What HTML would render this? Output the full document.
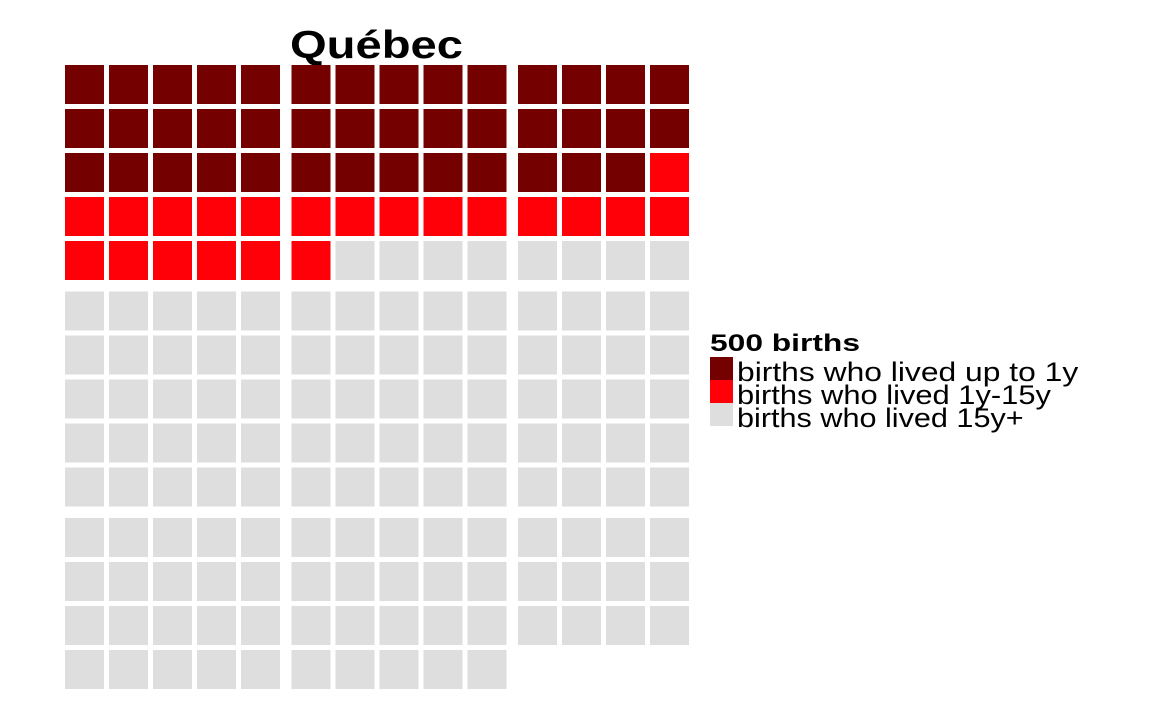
<!DOCTYPE html>
<html><head><meta charset="utf-8">
<style>
html,body{margin:0;padding:0;background:#fff;}
svg{display:block;font-family:"Liberation Sans",sans-serif;}
</style></head>
<body>
<svg id="chart" width="1152" height="720" viewBox="0 0 1152 720">
<text x="290" y="58" textLength="173" lengthAdjust="spacingAndGlyphs" font-size="39" font-weight="bold" fill="#000">Québec</text>
<g id="cells"></g>
<g>
<text x="710" y="351" textLength="150" lengthAdjust="spacingAndGlyphs" font-size="24" font-weight="bold" fill="#000">500 births</text>
<g id="legend-keys"></g>
</g>
</svg>
<script>
const categories = ["births who lived up to 1y", "births who lived 1y-15y", "births who lived 15y+"];
const counts = [41, 21, 130];
const colors = ["#750000", "#ff0008", "#dedede"];
const nCols = 14;

const NS = "http://www.w3.org/2000/svg";
const cellG = document.getElementById("cells");
function xPos(c){ return 65 + c*44 + Math.floor(c/5)*6.5; }
function yPos(r){ return 65 + r*44 + Math.floor(r/5)*6.5; }
let idx = 0;
counts.forEach((n, k) => {
  for (let i = 0; i < n; i++) {
    const c = idx % nCols, r = Math.floor(idx / nCols);
    const rect = document.createElementNS(NS, "rect");
    rect.setAttribute("x", xPos(c));
    rect.setAttribute("y", yPos(r));
    rect.setAttribute("width", 39);
    rect.setAttribute("height", 39);
    rect.setAttribute("fill", colors[k]);
    
    
    cellG.appendChild(rect);
    idx++;
  }
});
const lg = document.getElementById("legend-keys");
categories.forEach((name, k) => {
  const g = document.createElementNS(NS, "g");
  
  
  const r = document.createElementNS(NS, "rect");
  r.setAttribute("x", 710); r.setAttribute("y", 357 + k*23);
  r.setAttribute("width", 23); r.setAttribute("height", 23);
  r.setAttribute("fill", colors[k]);
  
  
  const t = document.createElementNS(NS, "text");
  t.setAttribute("x", 737); t.setAttribute("y", 381 + k*23);
  t.setAttribute("font-size", 27);
  t.setAttribute("fill", "#000");
  t.textContent = name;
  t.setAttribute("textLength", name.length * 13.65);
  t.setAttribute("lengthAdjust", "spacingAndGlyphs");
  
  
  g.appendChild(r); g.appendChild(t);
  lg.appendChild(g);
});
</script>
</body></html>
